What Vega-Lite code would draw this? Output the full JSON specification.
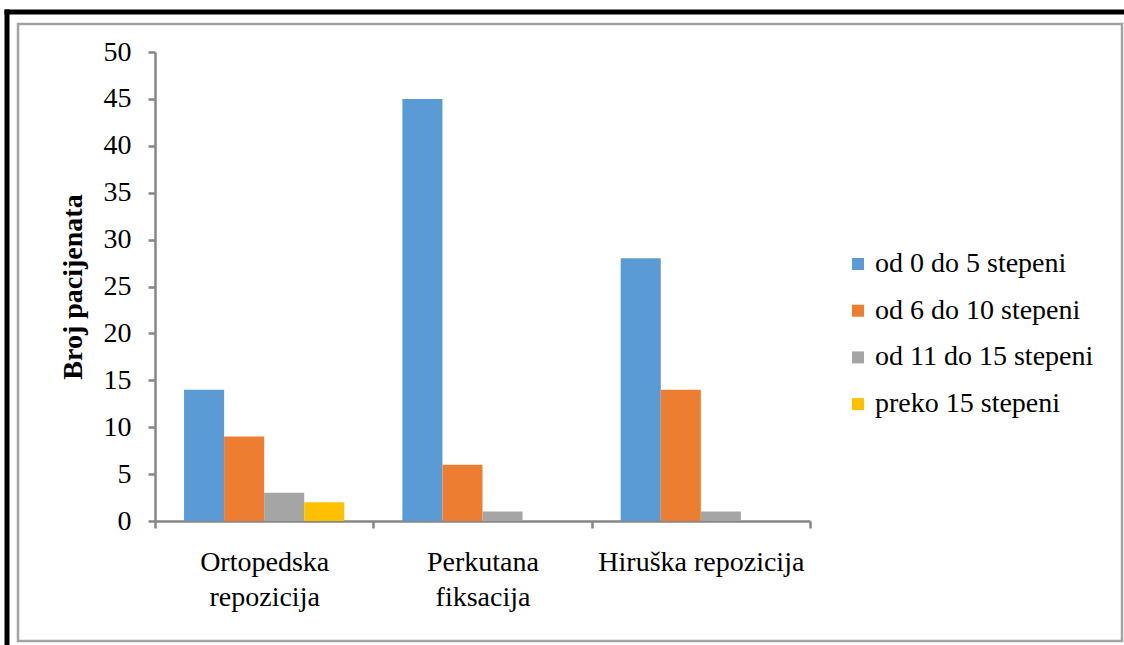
{
  "$schema": "https://vega.github.io/schema/vega-lite/v6.json",
  "width": 1104,
  "height": 617,
  "autosize": {"type": "none"},
  "padding": {"left": 18, "top": 24, "right": 2, "bottom": 4},
  "background": "white",
  "config": {
    "view": {"stroke": "#a3a3a3", "strokeWidth": 2.5},
    "font": "Liberation Serif"
  },
  "layer": [
    {
      "data": {
        "values": [
          {"method": "Ortopedska repozicija", "range": "od 0 do 5 stepeni", "count": 14},
          {"method": "Ortopedska repozicija", "range": "od 6 do 10 stepeni", "count": 9},
          {"method": "Ortopedska repozicija", "range": "od 11 do 15 stepeni", "count": 3},
          {"method": "Ortopedska repozicija", "range": "preko 15 stepeni", "count": 2},
          {"method": "Perkutana fiksacija", "range": "od 0 do 5 stepeni", "count": 45},
          {"method": "Perkutana fiksacija", "range": "od 6 do 10 stepeni", "count": 6},
          {"method": "Perkutana fiksacija", "range": "od 11 do 15 stepeni", "count": 1},
          {"method": "Hiruška repozicija", "range": "od 0 do 5 stepeni", "count": 28},
          {"method": "Hiruška repozicija", "range": "od 6 do 10 stepeni", "count": 14},
          {"method": "Hiruška repozicija", "range": "od 11 do 15 stepeni", "count": 1}
        ]
      },
      "mark": {"type": "bar"},
      "encoding": {
        "x": {
          "field": "method",
          "type": "nominal",
          "sort": ["Ortopedska repozicija", "Perkutana fiksacija", "Hiruška repozicija"],
          "scale": {"range": [137, 792], "paddingInner": 0, "paddingOuter": 0},
          "axis": {
            "orient": "bottom",
            "offset": -120,
            "tickBand": "extent",
            "domainColor": "#868686",
            "domainWidth": 2.5,
            "tickColor": "#868686",
            "tickWidth": 2.5,
            "tickSize": 7,
            "labelAngle": 0,
            "labelFont": "Liberation Serif",
            "labelFontSize": 28,
            "labelColor": "black",
            "labelPadding": 20,
            "labelLineHeight": 35,
            "labelBaseline": "top",
            "labelLimit": 400,
            "title": null,
            "grid": false,
            "labelExpr": "isValid(datum.value) ? (datum.value == 'Hiruška repozicija' ? datum.value : split(datum.value, ' ')) : ''"
          }
        },
        "xOffset": {
          "field": "range",
          "type": "nominal",
          "sort": ["od 0 do 5 stepeni", "od 6 do 10 stepeni", "od 11 do 15 stepeni", "preko 15 stepeni"],
          "scale": {"domain": ["od 0 do 5 stepeni", "od 6 do 10 stepeni", "od 11 do 15 stepeni", "preko 15 stepeni"], "paddingInner": 0, "paddingOuter": 0.725}
        },
        "y": {
          "field": "count",
          "type": "quantitative",
          "scale": {"domain": [0, 50], "range": [497, 28], "nice": false},
          "axis": {
            "orient": "left",
            "offset": -137,
            "values": [0, 5, 10, 15, 20, 25, 30, 35, 40, 45, 50],
            "domainColor": "#868686",
            "domainWidth": 2.5,
            "tickColor": "#868686",
            "tickWidth": 2.5,
            "tickSize": 7,
            "labelFont": "Liberation Serif",
            "labelFontSize": 28,
            "labelColor": "black",
            "labelPadding": 17,
            "grid": false,
            "title": "Broj pacijenata",
            "titleFont": "Liberation Serif",
            "titleFontSize": 28,
            "titleFontWeight": "bold",
            "titleColor": "black",
            "titlePadding": 16
          }
        },
        "color": {
          "field": "range",
          "type": "nominal",
          "scale": {
            "domain": ["od 0 do 5 stepeni", "od 6 do 10 stepeni", "od 11 do 15 stepeni", "preko 15 stepeni"],
            "range": ["#5B9BD5", "#ED7D31", "#A5A5A5", "#FFC000"]
          },
          "legend": {
            "orient": "none",
            "legendX": 826,
            "legendY": 226,
            "title": null,
            "symbolType": "square",
            "symbolSize": 144,
            "symbolStrokeWidth": 0,
            "labelFont": "Liberation Serif",
            "labelFontSize": 28,
            "labelColor": "black",
            "labelOffset": 3,
            "rowPadding": 18.7,
            "padding": 0,
            "labelLimit": 400
          }
        }
      }
    },
    {
      "data": {"values": [{"v": 0}]},
      "mark": {"type": "point", "opacity": 0},
      "encoding": {
        "x": {
          "datum": 0,
          "type": "quantitative",
          "scale": {"domain": [0, 1], "range": [-14, 1110]},
          "axis": {"orient": "top", "offset": 12.5, "domainColor": "black", "domainWidth": 5, "ticks": false, "labels": false, "grid": false, "title": null}
        },
        "y": {
          "datum": 0,
          "type": "quantitative",
          "scale": {"domain": [0, 1], "range": [640, -15]},
          "axis": {"orient": "left", "offset": 11.5, "domainColor": "black", "domainWidth": 5, "ticks": false, "labels": false, "grid": false, "title": null}
        }
      }
    }
  ],
  "resolve": {
    "scale": {"x": "independent", "y": "independent"},
    "axis": {"x": "independent", "y": "independent"}
  }
}
